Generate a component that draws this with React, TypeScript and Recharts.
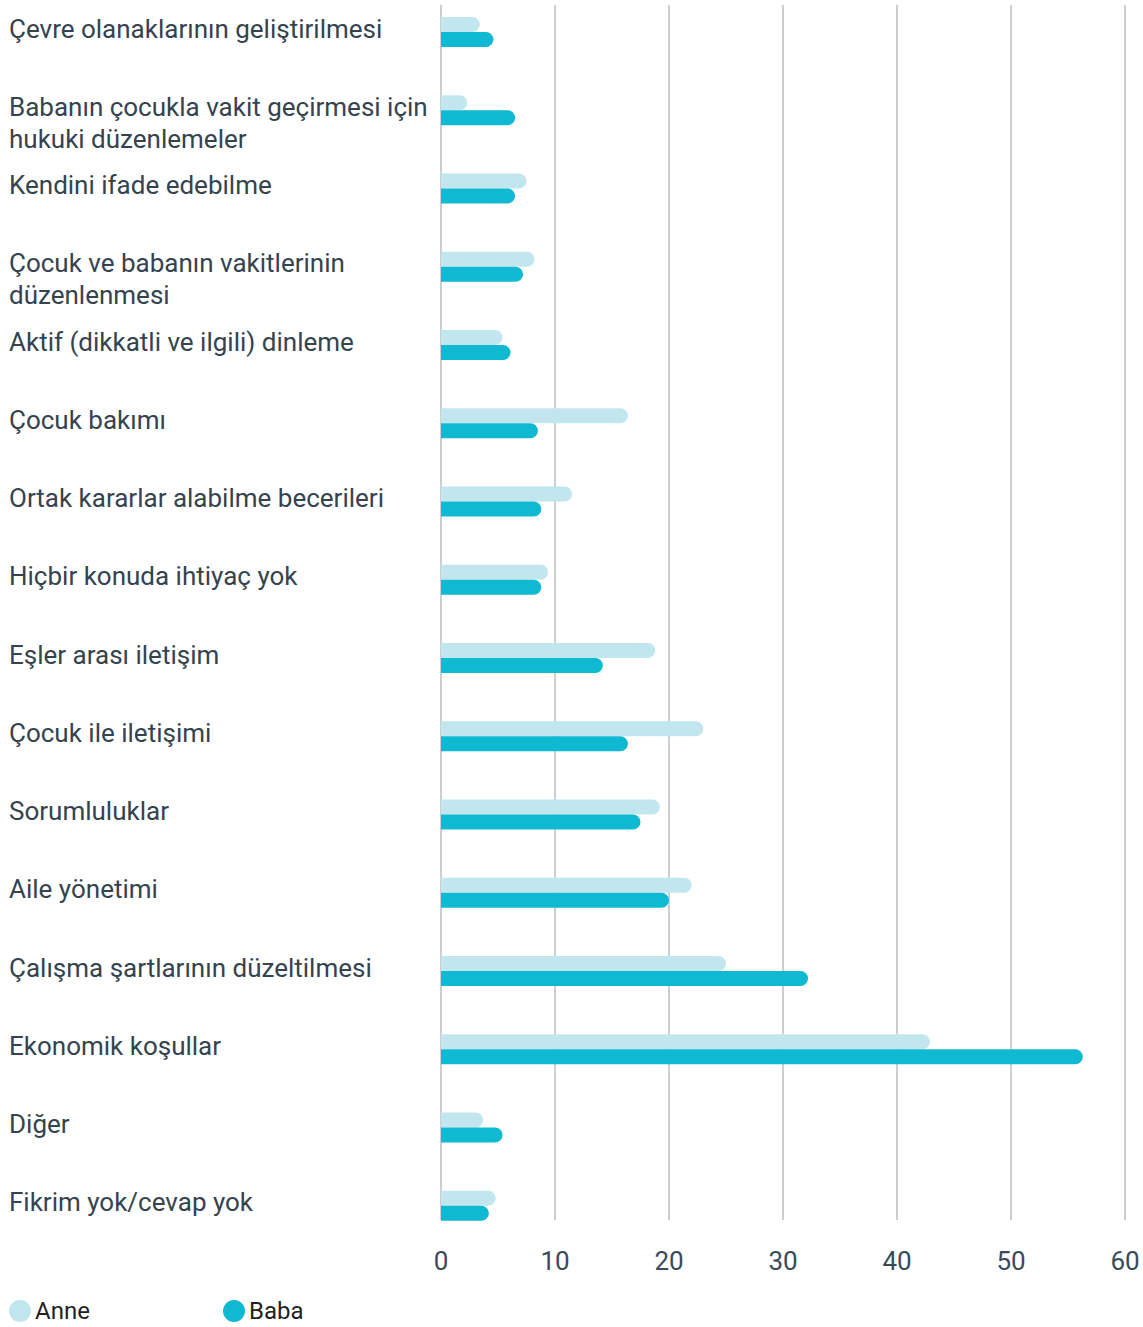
import { Bar, BarChart, CartesianGrid, Legend, XAxis, YAxis } from "recharts"

const categories = [
  "Çevre olanaklarının geliştirilmesi",
  "Babanın çocukla vakit geçirmesi için hukuki düzenlemeler",
  "Kendini ifade edebilme",
  "Çocuk ve babanın vakitlerinin düzenlenmesi",
  "Aktif (dikkatli ve ilgili) dinleme",
  "Çocuk bakımı",
  "Ortak kararlar alabilme becerileri",
  "Hiçbir konuda ihtiyaç yok",
  "Eşler arası iletişim",
  "Çocuk ile iletişimi",
  "Sorumluluklar",
  "Aile yönetimi",
  "Çalışma şartlarının düzeltilmesi",
  "Ekonomik koşullar",
  "Diğer",
  "Fikrim yok/cevap yok",
]

const anneValues = [3.4, 2.3, 7.5, 8.2, 5.4, 16.4, 11.5, 9.4, 18.8, 23.0, 19.2, 22.0, 25.0, 42.9, 3.7, 4.8]
const babaValues = [4.6, 6.5, 6.5, 7.2, 6.1, 8.5, 8.8, 8.8, 14.2, 16.4, 17.5, 20.0, 32.2, 56.3, 5.4, 4.2]

const xTicks = [0, 10, 20, 30, 40, 50, 60]

const ANNE = "#c2e6ee"
const BABA = "#10b9d2"
const FONT = "Roboto, 'Noto Sans', sans-serif"

const data = categories.map((name, i) => ({
  name,
  anne: anneValues[i],
  baba: babaValues[i],
}))

// greedy word wrap, long labels go on two lines
const wrap = (s: string, max: number) => {
  const out: string[] = []
  let line = ""
  for (const w of s.split(" ")) {
    const next = line ? line + " " + w : w
    if (next.length > max && line) {
      out.push(line)
      line = w
    } else {
      line = next
    }
  }
  if (line) out.push(line)
  return out
}

const CategoryTick = ({ y, payload }: any) => {
  const lines = wrap(payload.value, 36)
  return (
    <text x={9} y={y - 13} fontSize={26} fill="#35434f" fontFamily={FONT}>
      {lines.map((l, i) => (
        <tspan key={i} x={9} dy={i === 0 ? "0.71em" : 32}>
          {l}
        </tspan>
      ))}
    </text>
  )
}

const legendItems = [
  { label: "Anne", color: ANNE },
  { label: "Baba", color: BABA },
]

const LegendContent = () => (
  <div
    style={{
      display: "flex",
      height: 40,
      paddingTop: 13,
      boxSizing: "border-box",
      fontFamily: FONT,
      fontSize: 24,
      color: "#222",
    }}
  >
    {legendItems.map((it) => (
      <div key={it.label} style={{ display: "flex", alignItems: "center", width: 214, height: 22 }}>
        <span
          style={{
            width: 22,
            height: 22,
            borderRadius: "50%",
            background: it.color,
            marginRight: 4,
            display: "inline-block",
          }}
        />
        <span style={{ lineHeight: "22px" }}>{it.label}</span>
      </div>
    ))}
  </div>
)

export default function App() {
  return (
    <div style={{ position: "absolute", left: 0, top: 0, background: "#fff" }}>
      <BarChart
        width={1143}
        height={1327}
        data={data}
        layout="vertical"
        margin={{ top: 5, right: 18, bottom: 0, left: 0 }}
        barSize={15}
        barGap={0}
      >
        <CartesianGrid horizontal={false} stroke="#a9b0b6" strokeWidth={1.2} />
        <XAxis
          type="number"
          domain={[0, 60]}
          ticks={xTicks}
          axisLine={false}
          tickLine={false}
          tickMargin={26}
          height={67}
          tick={{ fontSize: 26, fill: "#3a4a59", fontFamily: FONT }}
        />
        <YAxis
          type="category"
          dataKey="name"
          width={441}
          axisLine={false}
          tickLine={false}
          padding={{ top: -12, bottom: -25 }}
          tick={<CategoryTick />}
          interval={0}
        />
        <Legend
          verticalAlign="bottom"
          align="left"
          content={<LegendContent />}
          wrapperStyle={{ left: 9, bottom: 0 }}
        />
        <Bar dataKey="anne" name="Anne" fill={ANNE} radius={[0, 8, 8, 0]} isAnimationActive={false} />
        <Bar dataKey="baba" name="Baba" fill={BABA} radius={[0, 8, 8, 0]} isAnimationActive={false} />
      </BarChart>
    </div>
  )
}
